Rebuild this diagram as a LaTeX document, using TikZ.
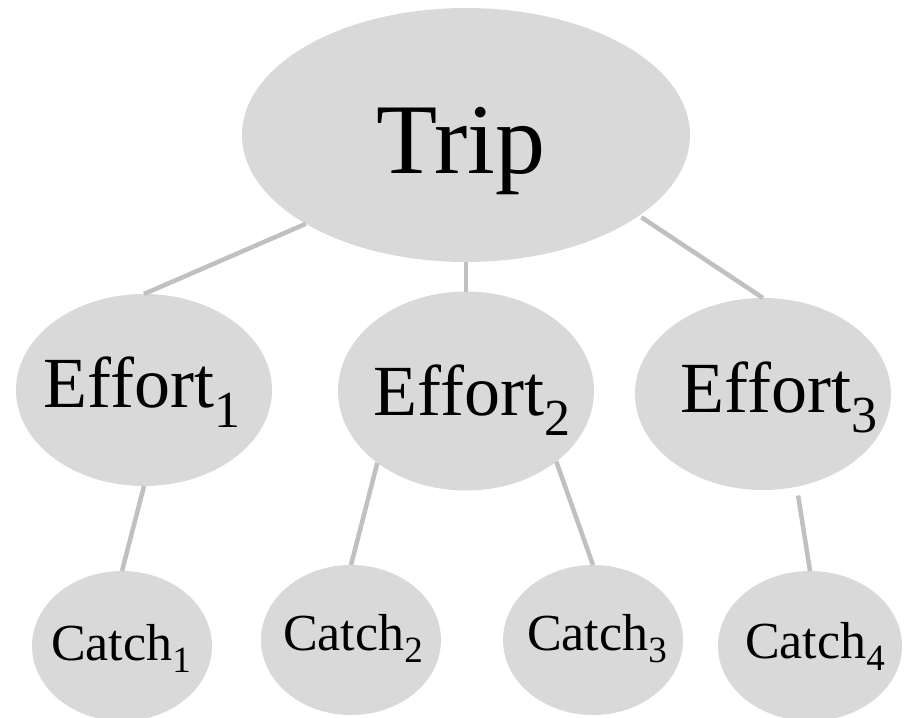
\documentclass[tikz,border=0pt]{standalone}
\usepackage{fontspec}
\setmainfont{Liberation Serif}
\usetikzlibrary{shapes.geometric}
\definecolor{ovalfill}{HTML}{D9D9D9}
\definecolor{linkgray}{HTML}{C0C0C0}
\tikzset{
  oval/.style={ellipse, fill=ovalfill, draw=none, inner sep=0pt, outer sep=0pt},
  lab/.style={anchor=base, inner sep=0pt, outer sep=0pt, text=black},
  link/.style={draw=linkgray, line width=4.5pt}
}
\newcommand{\bigtxt}[1]{\fontsize{100}{100}\selectfont #1}
\newcommand{\efftxt}[1]{\fontsize{72}{72}\selectfont Effort\raisebox{-20pt}{\fontsize{52}{52}\selectfont #1}}
\newcommand{\cattxt}[1]{\fontsize{52}{52}\selectfont Catch\raisebox{-12pt}{\fontsize{37}{37}\selectfont #1}}
\begin{document}
\begin{tikzpicture}[x=1pt,y=-1pt]
\useasboundingbox (0,0) rectangle (909,717);
% ellipses
\node[oval, minimum width=448pt, minimum height=254pt] (trip) at (466,135) {};
\node[oval, minimum width=256pt, minimum height=192pt] (e1) at (144,390) {};
\node[oval, minimum width=256pt, minimum height=199pt] (e2) at (466,391) {};
\node[oval, minimum width=256pt, minimum height=192pt] (e3) at (763,394) {};
\node[oval, minimum width=180pt, minimum height=150pt] (c1) at (122,646) {};
\node[oval, minimum width=180pt, minimum height=150pt] (c2) at (351,640) {};
\node[oval, minimum width=180pt, minimum height=150pt] (c3) at (593,640) {};
\node[oval, minimum width=184pt, minimum height=150pt] (c4) at (810,646) {};
% labels
\node[lab] (ttrip) at (461,173) {\bigtxt{Trip}};
\node[lab] (te1) at (142,407) {\efftxt{1}};
\node[lab] (te2) at (472,415) {\efftxt{2}};
\node[lab] (te3) at (779,412) {\efftxt{3}};
\node[lab] (tc1) at (121,660) {\cattxt{1}};
\node[lab] (tc2) at (353,650) {\cattxt{2}};
\node[lab] (tc3) at (597,650) {\cattxt{3}};
\node[lab] (tc4) at (815,658) {\cattxt{4}};
% connectors
\draw[link] (trip.209) -- (e1.north);
\draw[link] (trip.south) -- (e2.north);
\draw[link, shorten <=3pt] (trip.335) -- (e3.north);
\draw[link] (e1.south) -- (c1.north);
\draw[link] (e2.219) -- (c2.north);
\draw[link] (e2.322) -- (c3.north);
\draw[link, shorten <=9pt] (e3.290) -- (c4.north);
\end{tikzpicture}
\end{document}
